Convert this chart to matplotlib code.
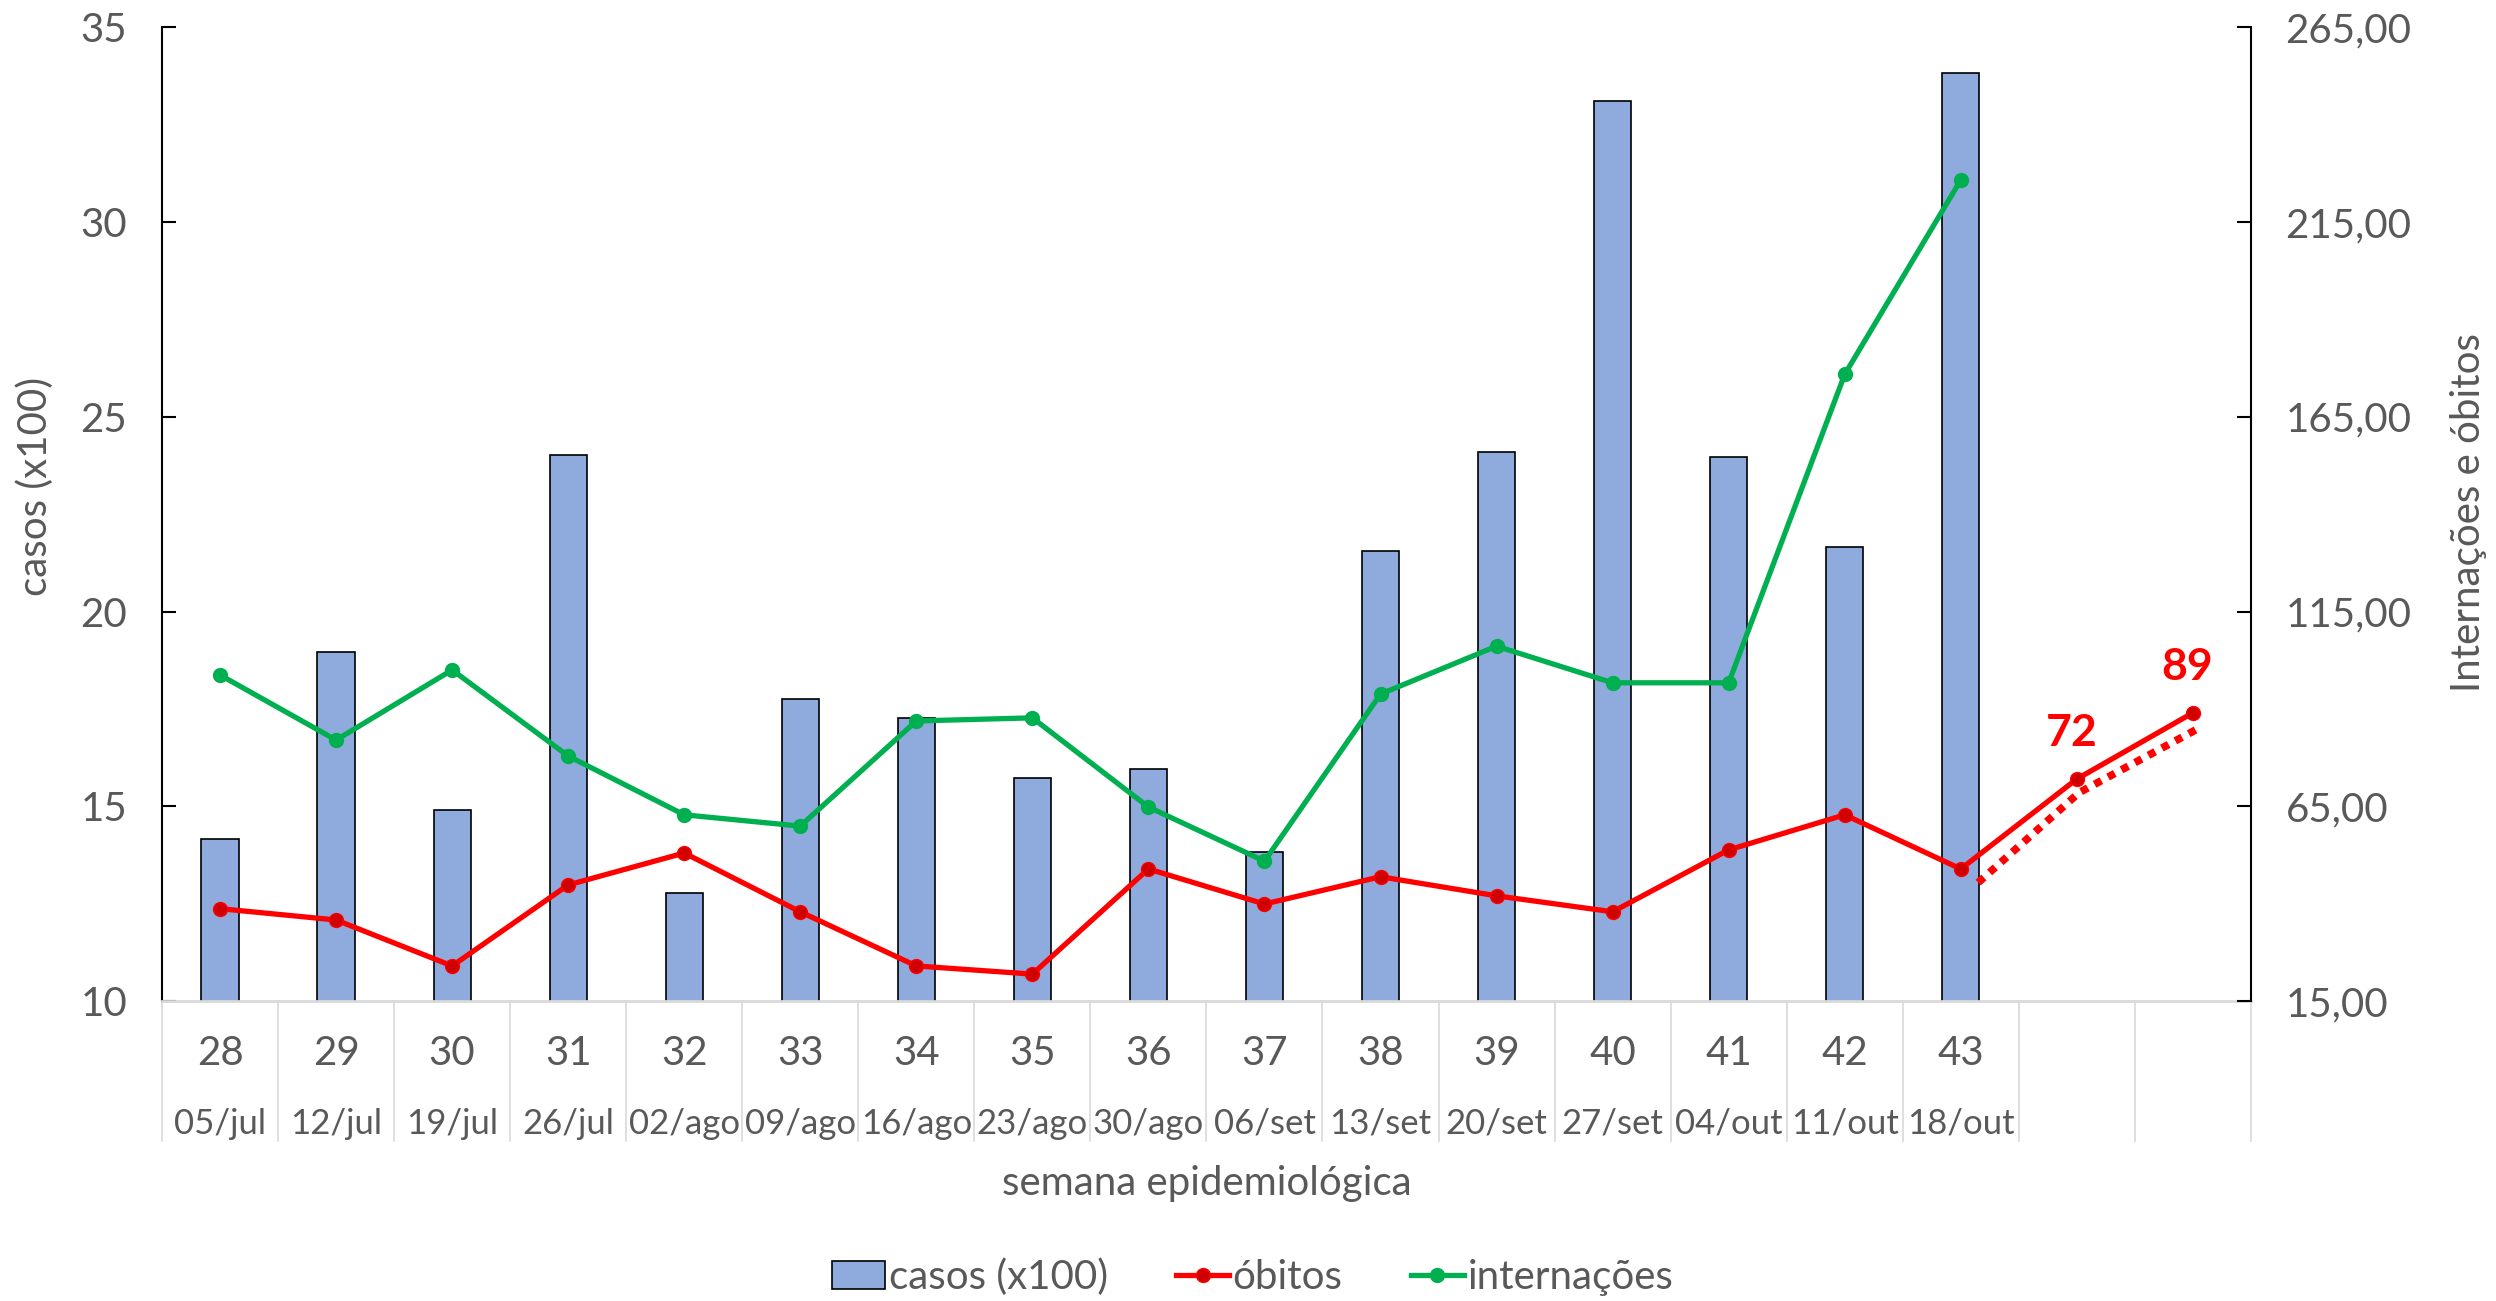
import matplotlib.pyplot as plt
import matplotlib.transforms as mtransforms
from matplotlib.lines import Line2D
from matplotlib.patches import Patch
import numpy as np

plt.rcParams['font.family'] = ['Lato', 'DejaVu Sans']

semanas = ['28', '29', '30', '31', '32', '33', '34', '35', '36', '37', '38', '39', '40', '41', '42', '43', '', '']
datas = ['05/jul', '12/jul', '19/jul', '26/jul', '02/ago', '09/ago', '16/ago', '23/ago', '30/ago',
         '06/set', '13/set', '20/set', '27/set', '04/out', '11/out', '18/out', '', '']

casos = [14.17, 18.95, 14.9, 24.01, 12.78, 17.76, 17.27, 15.72, 15.96, 13.82, 21.56, 24.09, 33.12, 23.96, 21.66, 33.82]
obitos = [38.7, 35.8, 24.0, 44.8, 53.0, 37.9, 24.0, 21.9, 48.9, 39.9, 46.9, 42.0, 37.9, 53.8, 62.8, 48.9, 72, 89]
internacoes = [98.7, 82.0, 100.0, 77.9, 62.8, 59.9, 86.9, 87.7, 64.8, 50.9, 93.8, 106.1, 96.7, 96.7, 175.9, 225.8]
rotulos = {16: '72', 17: '89'}

cinza = '#595959'
fs = 29

fig = plt.figure(figsize=(24.96, 13.01), dpi=100)
ax = fig.add_axes([0.0649, 0.2306, 0.8369, 0.7484])
ax2 = ax.twinx()

x = np.arange(len(semanas))
ax.bar(x[:len(casos)], casos, width=0.32, color='#8FAADC', edgecolor='black', linewidth=1.2, zorder=2)
ax.set_xlim(-0.5, len(semanas) - 0.5)
ax.set_ylim(10, 35)
ax.set_yticks(range(10, 36, 5))
ax.set_xticks([])

ax2.set_ylim(15, 265)
ticks2 = np.arange(15, 266, 50)
ax2.set_yticks(ticks2)
ax2.set_yticklabels([f'{t:.2f}'.replace('.', ',') for t in ticks2])

# linhas
ax2.plot(x, obitos, color='#FF0000', lw=3.8, marker='o', markersize=10,
         markerfacecolor='#D00000', markeredgecolor='#FF0000', zorder=3)
ax2.plot(x[:len(internacoes)], internacoes, color='#00B050', lw=3.8, marker='o', markersize=10,
         markerfacecolor='#00B050', markeredgecolor='#00B050', zorder=3)

# tendência pontilhada (paralela às últimas semanas de óbitos)
xt = np.array([15.15, 16.02, 17.08])
yt = np.array(obitos[15:]) - 3.5
ax2.plot(xt, yt, color='#FF0000', lw=5.5, linestyle=(0, (1, 1)), dash_capstyle='butt', zorder=3)

for i, txt in rotulos.items():
    ax2.annotate(txt, (x[i], obitos[i]), xytext=(-4, 33), textcoords='offset points',
                 ha='center', va='center', color='#FF0000', fontsize=32, fontweight='bold')

for a in (ax, ax2):
    a.spines['top'].set_visible(False)
    a.tick_params(axis='y', direction='in', length=10, width=1.5, colors='black',
                  labelcolor=cinza, labelsize=fs, pad=25)
ax.spines['bottom'].set_color('#D9D9D9')
ax.spines['bottom'].set_linewidth(2)
ax.spines['left'].set_linewidth(1.5)
ax.spines['right'].set_visible(False)
ax2.spines['bottom'].set_visible(False)
ax2.spines['left'].set_visible(False)
ax2.spines['right'].set_linewidth(1.5)

# tabela do eixo x
trans = mtransforms.blended_transform_factory(ax.transData, ax.transAxes)
for b in np.arange(-0.5, len(semanas)):
    ax.plot([b, b], [0, -0.1437], transform=trans, color='#D9D9D9', lw=1.2, clip_on=False)
for i in x:
    ax.text(i, -0.0535, semanas[i], transform=trans, ha='center', va='center', fontsize=fs, color=cinza)
    ax.text(i, -0.126, datas[i], transform=trans, ha='center', va='center', fontsize=25, color=cinza)

fig.text(0.4836, 1 - 1183 / 1301, 'semana epidemiológica', ha='center', va='center', fontsize=fs, color=cinza)
fig.text(0.014, 0.626, 'casos (x100)', rotation=90, ha='center', va='center', fontsize=fs, color=cinza)
fig.text(0.989, 0.606, 'Internações e óbitos', rotation=90, ha='center', va='center', fontsize=fs, color=cinza)

handles = [Patch(facecolor='#8FAADC', edgecolor='black', linewidth=1.2),
           Line2D([], [], color='#FF0000', lw=3.8, marker='o', markersize=10, markerfacecolor='#D00000'),
           Line2D([], [], color='#00B050', lw=3.8, marker='o', markersize=10)]
fig.legend(handles, ['casos (x100)', 'óbitos', 'internações'], loc='center',
           bbox_to_anchor=(0.502, 1 - 1277 / 1301), ncol=3, frameon=False, fontsize=fs,
           handlelength=1.3, handletextpad=0.1, columnspacing=1.7, labelcolor=cinza)

fig.savefig('out.png', dpi=100)
